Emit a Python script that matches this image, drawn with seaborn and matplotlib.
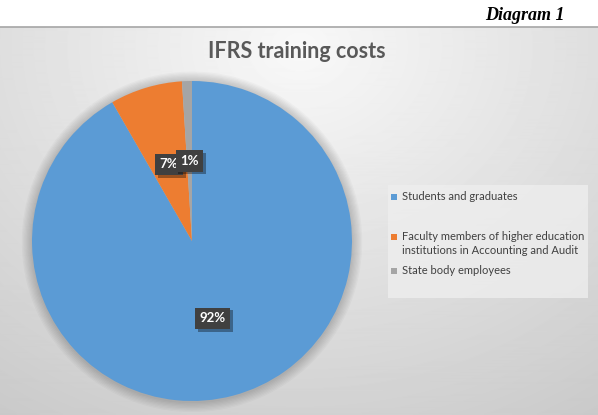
import numpy as np
import matplotlib
matplotlib.use("Agg")
import matplotlib.pyplot as plt
import matplotlib.patches as mpatches
import matplotlib.patheffects as pe
import seaborn as sns

categories = ["Students and graduates",
              "Faculty members of higher education\ninstitutions in Accounting and Audit",
              "State body employees"]
values = [91.7, 7.3, 1.0]
colors = ["#5B9BD5", "#ED7D31", "#A5A5A5"]
title = "IFRS training costs"
caption = "Diagram 1"

sns.set_theme(style="white")
plt.rcParams['font.family'] = ['Lato', 'DejaVu Sans']

W, H = 598, 415
fig = plt.figure(figsize=(W / 100, H / 100), dpi=100)
fig.patch.set_facecolor("white")

# background gradient panel
top = 27
bg = fig.add_axes([0, 0, 1, (H - top) / H])
yy, xx = np.mgrid[0:H - top, 0:W]
cx, cy = 300, 20
d = np.sqrt(((xx - cx) / 520.0) ** 2 + ((yy - cy) / 430.0) ** 2)
shade = 0.975 - 0.18 * np.clip(d, 0, 1.2)
bg.imshow(shade, cmap="gray", vmin=0, vmax=1, aspect="auto",
          extent=[0, W, H - top, 0], interpolation="bilinear")
bg.set_axis_off()
fig.add_artist(plt.Line2D([0, 1], [(H - top) / H] * 2, color="#a6a6a6", lw=1.2))

# pie
cxp, cyp, r = 192, 241, 160
ax = fig.add_axes([(cxp - r) / W, (H - cyp - r) / H, 2 * r / W, 2 * r / H])
for k in range(8):
    ax.add_patch(mpatches.Circle((0.0, -0.005), 1.0 + 0.008 * (k + 1),
                                 fc="black", ec="none", alpha=0.022, zorder=0,
                                 clip_on=False))
wedges, texts, autotexts = ax.pie(values, colors=colors, startangle=90,
                                  counterclock=False, autopct="%1.0f%%",
                                  pctdistance=0.5, radius=1.0,
                                  wedgeprops=dict(linewidth=0, zorder=1))
ax.set_xlim(-1, 1)
ax.set_ylim(-1, 1)
ax.set_aspect("equal")
ax.set_axis_off()
for t in autotexts:
    t.set_color("white")
    t.set_fontweight("bold")
    t.set_fontsize(9.5)
    t.set_bbox(dict(boxstyle="square,pad=0.35", fc="#404040", ec="none"))
    t.set_zorder(5)
    bb = t.get_bbox_patch()
    bb.set_path_effects([pe.SimplePatchShadow(offset=(2, -2), shadow_rgbFace="black", alpha=0.35),
                         pe.Normal()])

# title
fig.text(297 / W, 1 - 52 / H, title, ha="center", va="center",
         fontsize=15.5, fontweight="bold", color="#595959")
fig.text(565 / W, 1 - 15 / H, caption, ha="right", va="center",
         fontsize=13, fontweight="bold", fontstyle="italic",
         family=["Liberation Serif", "DejaVu Serif"], color="black")

# legend (panel with coloured keys)
fig.add_artist(mpatches.Rectangle((388 / W, 1 - 298 / H), 200 / W, 113 / H,
                                  transform=fig.transFigure, fc="#eeeeee",
                                  ec="none", alpha=0.8, zorder=2))
legend_rows = [197, 237, 271]
for lab, col, yrow in zip(categories, colors, legend_rows):
    fig.add_artist(mpatches.Rectangle((391 / W, 1 - (yrow + 3) / H), 6 / W, 6 / H,
                                      transform=fig.transFigure, fc=col, ec="none", zorder=3))
    fig.text(402 / W, 1 - (yrow - 6) / H, lab, ha="left", va="top",
             fontsize=8, color="#404040", linespacing=1.35, zorder=3)

fig.savefig("out.png", dpi=100)
